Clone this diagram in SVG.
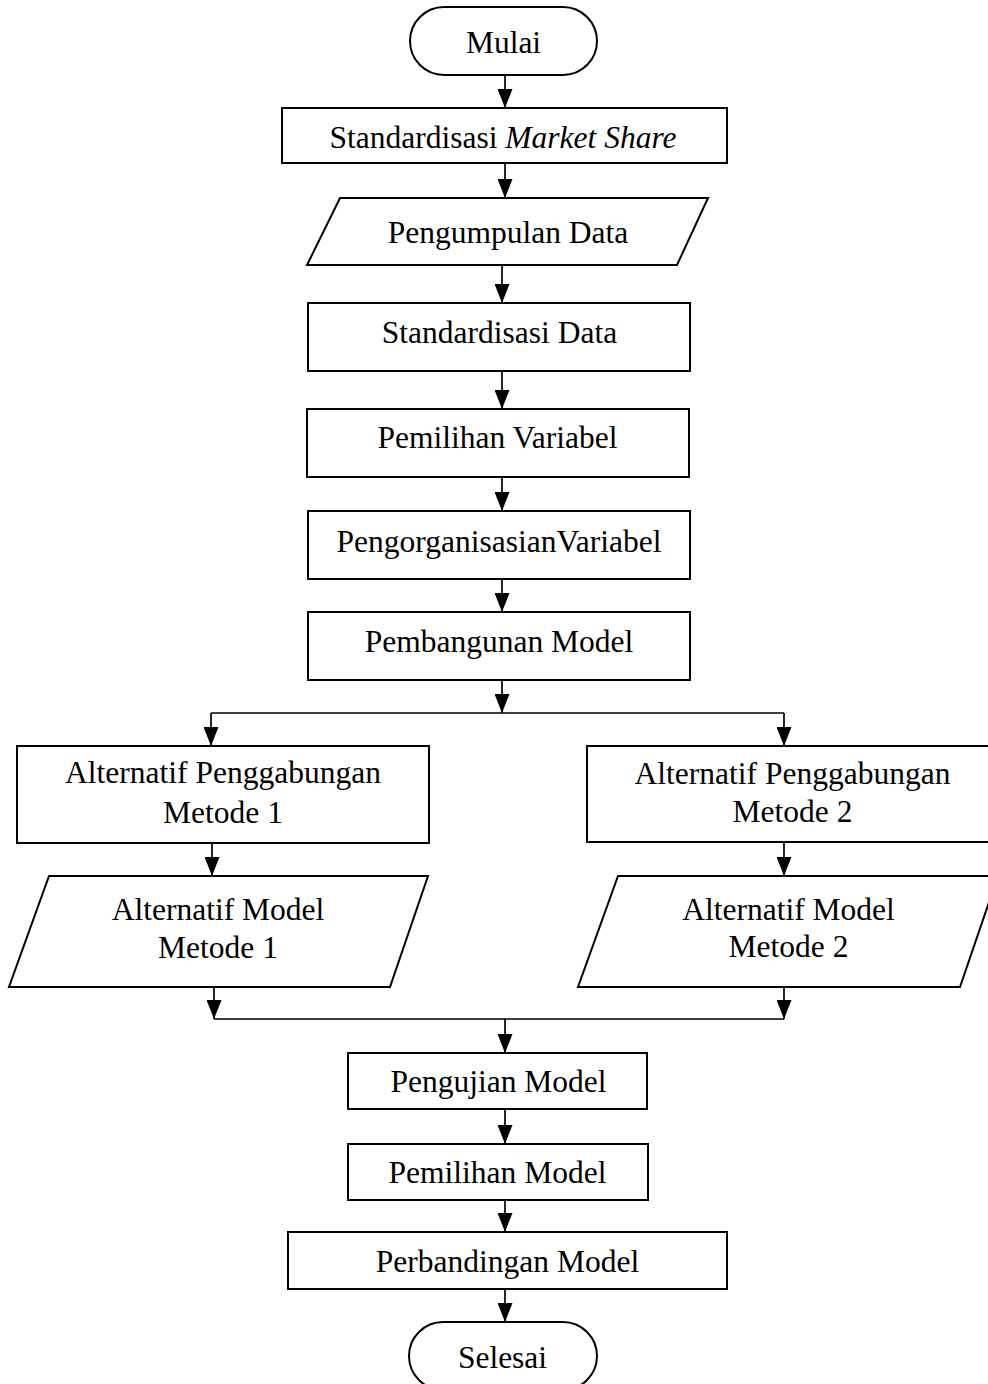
<svg xmlns="http://www.w3.org/2000/svg" width="988" height="1384" viewBox="0 0 988 1384">
<style>
.s{fill:#fff;stroke:#000;stroke-width:2}
.t{font-family:"Liberation Serif","Times New Roman",serif;font-size:31.5px;fill:#000;text-anchor:middle}
.c{fill:none;stroke:#000;stroke-width:1.7}
.a{marker-end:url(#ah)}
</style>
<defs>
<marker id="ah" markerUnits="userSpaceOnUse" markerWidth="19" markerHeight="15" viewBox="0 0 19 15" refX="19" refY="7.5" orient="auto">
<path d="M0,0 L19,7.5 L0,15 z" fill="#000"/>
</marker>
</defs>
<rect width="988" height="1384" fill="#fff"/>
<g id="connectors">
<line class="c a" x1="505" y1="75" x2="505" y2="108"/>
<line class="c a" x1="505" y1="163" x2="505" y2="198"/>
<line class="c a" x1="502" y1="265" x2="502" y2="303"/>
<line class="c a" x1="502" y1="371" x2="502" y2="409"/>
<line class="c a" x1="502" y1="477" x2="502" y2="511"/>
<line class="c a" x1="502" y1="579" x2="502" y2="612"/>
<line class="c a" x1="502" y1="680" x2="502" y2="713"/>
<line class="c" x1="211" y1="713" x2="784" y2="713"/>
<line class="c a" x1="211" y1="713" x2="211" y2="746"/>
<line class="c a" x1="784" y1="713" x2="784" y2="746"/>
<line class="c a" x1="212" y1="843" x2="212" y2="876"/>
<line class="c a" x1="784" y1="842" x2="784" y2="876"/>
<line class="c a" x1="214" y1="987" x2="214" y2="1019"/>
<line class="c a" x1="784" y1="987" x2="784" y2="1019"/>
<line class="c" x1="214" y1="1019" x2="784" y2="1019"/>
<line class="c a" x1="505" y1="1019" x2="505" y2="1053"/>
<line class="c a" x1="505" y1="1109" x2="505" y2="1144"/>
<line class="c a" x1="505" y1="1200" x2="505" y2="1232"/>
<line class="c a" x1="505" y1="1289" x2="505" y2="1322"/>
</g>
<g id="mulai">
<rect class="s" x="410" y="7" width="187" height="68" rx="34" ry="34"/>
<text class="t" x="503.5" y="53">Mulai</text>
</g>
<g id="std-market-share">
<rect class="s" x="282" y="108" width="445" height="55"/>
<text class="t" x="503" y="148">Standardisasi <tspan font-style="italic">Market Share</tspan></text>
</g>
<g id="pengumpulan-data">
<polygon class="s" points="340,198 708,198 677,265 307,265"/>
<text class="t" x="508" y="243">Pengumpulan Data</text>
</g>
<g id="std-data">
<rect class="s" x="308" y="303" width="382" height="68"/>
<text class="t" x="499.5" y="343">Standardisasi Data</text>
</g>
<g id="pemilihan-variabel">
<rect class="s" x="307" y="409" width="382" height="68"/>
<text class="t" x="497.5" y="448">Pemilihan Variabel</text>
</g>
<g id="pengorganisasian-variabel">
<rect class="s" x="308" y="511" width="382" height="68"/>
<text class="t" x="499" y="552">PengorganisasianVariabel</text>
</g>
<g id="pembangunan-model">
<rect class="s" x="308" y="612" width="382" height="68"/>
<text class="t" x="499" y="652">Pembangunan Model</text>
</g>
<g id="alt-penggabungan-1">
<rect class="s" x="17" y="746" width="412" height="97"/>
<text class="t" x="223" y="783">Alternatif Penggabungan</text>
<text class="t" x="223" y="823">Metode 1</text>
</g>
<g id="alt-penggabungan-2">
<rect class="s" x="587" y="746" width="412" height="96"/>
<text class="t" x="792.5" y="784">Alternatif Penggabungan</text>
<text class="t" x="792.5" y="822">Metode 2</text>
</g>
<g id="alt-model-1">
<polygon class="s" points="49,876 428,876 390,987 9,987"/>
<text class="t" x="218" y="920">Alternatif Model</text>
<text class="t" x="218" y="958">Metode 1</text>
</g>
<g id="alt-model-2">
<polygon class="s" points="618,876 998,876 960,987 578,987"/>
<text class="t" x="788.5" y="920">Alternatif Model</text>
<text class="t" x="788.5" y="957">Metode 2</text>
</g>
<g id="pengujian-model">
<rect class="s" x="348" y="1053" width="299" height="56"/>
<text class="t" x="498.5" y="1092">Pengujian Model</text>
</g>
<g id="pemilihan-model">
<rect class="s" x="348" y="1144" width="300" height="56"/>
<text class="t" x="497.5" y="1183">Pemilihan Model</text>
</g>
<g id="perbandingan-model">
<rect class="s" x="288" y="1232" width="439" height="57"/>
<text class="t" x="507.5" y="1272">Perbandingan Model</text>
</g>
<g id="selesai">
<rect class="s" x="409" y="1322" width="188" height="68" rx="34" ry="34"/>
<text class="t" x="502.5" y="1368">Selesai</text>
</g>
</svg>
